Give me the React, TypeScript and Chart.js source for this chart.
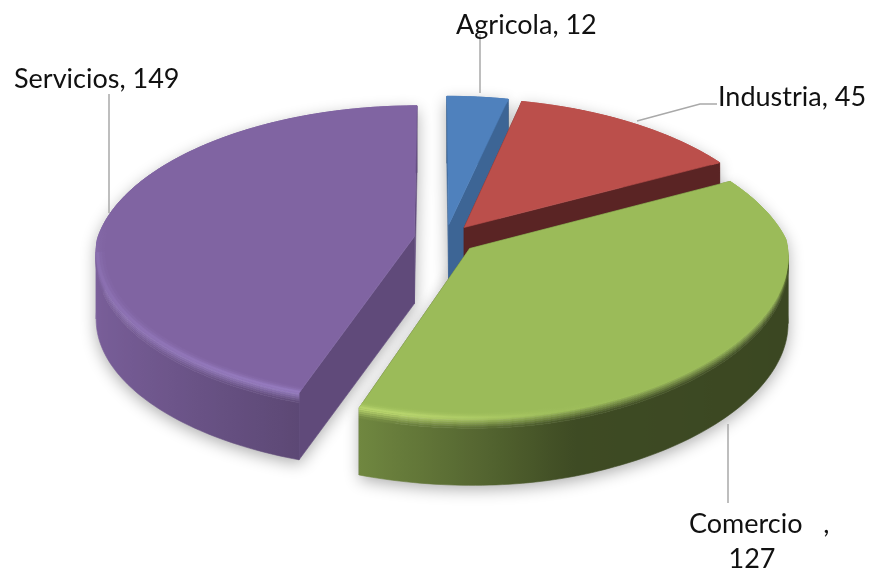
import React, { useEffect, useRef } from "react";
import { Chart, registerables } from "chart.js";

Chart.register(...registerables);

const categories = ["Agricola", "Industria", "Comercio", "Servicios"];
const values = [12, 45, 127, 149];
const topColors = ["#4f81bd", "#bb4f4b", "#9bbb59", "#8064a2"];
const cutColors = ["#3d6595", "#5a2424", "#4a5a2a", "#604a7a"];
const rimColors = ["#7aa5e0", "#e07a76", "#c0dc72", "#9c82c8"];

// Projection of the pie's plane on to the page
const VX = 434, CY = 239, SX = 317, SY = 147, X0 = -0.036, PX_BACK = 0.15, PY = 0.12, DEPTH = 67, BEVEL = 10, RING = 0.035;

type RGB = [number, number, number];
const hex = (h: string): RGB => [1, 3, 5].map((i) => parseInt(h.slice(i, i + 2), 16)) as RGB;
const css = (c: RGB) => `rgb(${c.map((v) => Math.round(v)).join(",")})`;
const mix = (a: RGB, b: RGB, t: number): RGB => a.map((v, i) => v + (b[i] - v) * t) as RGB;
const scale = (a: RGB, k: number): RGB => a.map((v) => v * k) as RGB;
const lerpTable = (s: number, t: number[][]) => {
  if (s <= t[0][0]) return t[0][1];
  for (let i = 1; i < t.length; i++) {
    if (s <= t[i][0]) return t[i - 1][1] + ((s - t[i - 1][0]) / (t[i][0] - t[i - 1][0])) * (t[i][1] - t[i - 1][1]);
  }
  return t[t.length - 1][1];
};
const wallK = (s: number) => lerpTable(s, [[-1, 0.95], [-0.32, 0.72], [0.3, 0.4], [1, 0.38]]);
const rimLight = (theta: number) => {
  const s = Math.cos(theta); // +1 right, -1 left
  const front = Math.sin(theta);
  return lerpTable(s, [[-1, 0.45], [-0.5, 0.9], [-0.2, 1], [0.25, 0.1], [0.45, 0]]) * lerpTable(front, [[-0.1, 0], [0.15, 1]]);
};

const project = (X: number, Y: number, z = 0): [number, number] => {
  const pf = lerpTable(X, [[-0.1, 0.1], [0.5, 0.05]]);
  return [
    VX + (SX * (X - X0)) / (1 - (Y > 0 ? pf : PX_BACK) * Y),
    CY + (SY * Y) / (1 - PY * Y) + z,
  ];
};

const pie3d = {
  id: "pie3d",
  beforeDatasetDraw: () => false,
  afterDatasetsDraw(chart: any) {
    const ctx: CanvasRenderingContext2D = chart.ctx;
    const arcs: any[] = chart.getDatasetMeta(0).data;
    const slices = arcs.map((arc, i) => {
      const R = arc.outerRadius;
      const mid = (arc.startAngle + arc.endAngle) / 2;
      const e = (arc.options.offset || 0) / R;
      const ox = e * Math.cos(mid), oy = e * Math.sin(mid);
      const at = (theta: number, r: number, z = 0) => project(ox + r * Math.cos(theta), oy + r * Math.sin(theta), z);
      return { i, a0: arc.startAngle, a1: arc.endAngle, at, oy };
    });
    const order = [...slices].sort((a, b) => a.oy - b.oy);

    const poly = (pts: [number, number][], fill: any, seam = true) => {
      ctx.beginPath();
      pts.forEach((p, k) => (k ? ctx.lineTo(p[0], p[1]) : ctx.moveTo(p[0], p[1])));
      ctx.closePath();
      ctx.fillStyle = fill;
      ctx.fill();
      if (seam) {
        ctx.strokeStyle = fill;
        ctx.lineWidth = 0.6;
        ctx.stroke();
      }
    };
    const outline = (s: any, r: number, z: number) => {
      const pts: [number, number][] = [s.at(s.a0, 0, z)];
      const n = Math.ceil((s.a1 - s.a0) / 0.02);
      for (let k = 0; k <= n; k++) pts.push(s.at(s.a0 + ((s.a1 - s.a0) * k) / n, r, z));
      return pts;
    };
    // split an arc where it turns round in x, so that x is monotonic on each part
    const parts = (s: any, r: number) => {
      const cuts = [s.a0];
      const n = Math.ceil((s.a1 - s.a0) / 0.01);
      let prev = 0;
      for (let k = 0; k < n; k++) {
        const t0 = s.a0 + ((s.a1 - s.a0) * k) / n, t1 = s.a0 + ((s.a1 - s.a0) * (k + 1)) / n;
        const dir = Math.sign(s.at(t1, r)[0] - s.at(t0, r)[0]);
        if (prev && dir && dir !== prev) cuts.push(t0);
        if (dir) prev = dir;
      }
      cuts.push(s.a1);
      return cuts.slice(1).map((c: number, i: number) => [cuts[i], c]);
    };
    // one smooth strip along an arc, shaded left to right
    const strip = (s: any, r0: number, z0: number, r1: number, z1: number, color: (t: number) => RGB, side: "all" | "back" | "front" = "all") => {
      parts(s, r1).forEach(([p0, p1]: number[]) => {
        const isFront = Math.sin((p0 + p1) / 2) > 0;
        if ((side === "back" && isFront) || (side === "front" && !isFront)) return;
        const n = Math.max(2, Math.ceil((p1 - p0) / 0.02));
        const top: [number, number][] = [];
        const bottom: [number, number][] = [];
        for (let k = 0; k <= n; k++) {
          const t = p0 + ((p1 - p0) * k) / n;
          top.push(s.at(t, r0, z0));
          bottom.unshift(s.at(t, r1, z1));
        }
        const xa = s.at(p0, r1, 0)[0], xb = s.at(p1, r1, 0)[0];
        const g = ctx.createLinearGradient(xa, 0, xb === xa ? xa + 1 : xb, 0);
        const stops = 40;
        for (let k = 0; k <= stops; k++) {
          const t = p0 + ((p1 - p0) * k) / stops;
          const x = s.at(t, r1, 0)[0];
          g.addColorStop(Math.min(1, Math.max(0, (x - xa) / (xb - xa || 1))), css(color(t)));
        }
        poly([...top, ...bottom], g);
      });
    };

    // soft shadow under every slice: one swept silhouette per slice
    ctx.save();
    ctx.shadowColor = "rgba(0,0,0,0.33)";
    ctx.shadowBlur = 16;
    ctx.shadowOffsetY = 5;
    ctx.fillStyle = "#ffffff";
    slices.forEach((s) => {
      ctx.beginPath();
      for (let z = 0; z <= DEPTH; z += 3) {
        outline(s, 1, z).forEach((p, k) => (k ? ctx.lineTo(p[0], p[1]) : ctx.moveTo(p[0], p[1])));
        ctx.closePath();
      }
      ctx.fill("nonzero");
    });
    ctx.restore();

    order.forEach((s) => {
      const base = hex(topColors[s.i]);
      const rim = hex(rimColors[s.i]);
      const wall = (t: number) => scale(base, wallK(Math.cos(t)));
      const hi = (t: number) => mix(base, rim, rimLight(t));
      const bands = 5;
      const side = (which: "back" | "front") => {
        strip(s, 1, BEVEL, 1, DEPTH, wall, which);
        for (let b = 0; b < bands; b++) {
          strip(s, 1, (BEVEL * b) / bands, 1, (BEVEL * (b + 1)) / bands, (t) => mix(hi(t), wall(t), (b + 0.5) / bands), which);
        }
      };
      side("back");
      // flat cut faces
      [s.a0, s.a1].forEach((a) => {
        poly([s.at(a, 0, 0), s.at(a, 1, 0), s.at(a, 1, DEPTH), s.at(a, 0, DEPTH)], cutColors[s.i]);
      });
      side("front");
      // top face
      poly(outline(s, 1, 0), css(base));
      // soft inner ring rising to the bevel
      const rings = 4;
      for (let b = 0; b < rings; b++) {
        const r0 = 1 - RING + (RING * b) / rings, r1 = 1 - RING + (RING * (b + 1)) / rings;
        strip(s, r0, 0, r1, 0, (t) => mix(base, hi(t), Math.pow((b + 0.5) / rings, 2)));
      }
    });

    // data labels and leader lines
    ctx.save();
    ctx.strokeStyle = "#a9a9a9";
    ctx.lineWidth = 1.5;
    const leaders: [number, number][][] = [
      [[480, 34], [480, 93]],
      [[717, 104], [700, 104], [637, 121]],
      [[728, 424], [728, 503]],
      [[109, 94], [109, 213]],
    ];
    leaders.forEach((l) => {
      ctx.beginPath();
      l.forEach((p, k) => (k ? ctx.lineTo(p[0], p[1]) : ctx.moveTo(p[0], p[1])));
      ctx.stroke();
    });
    ctx.fillStyle = "#111111";
    ctx.font = "27px Lato";
    ctx.textBaseline = "alphabetic";
    ctx.textAlign = "left";
    ctx.fillText(`${categories[0]}, ${values[0]}`, 456, 34);
    ctx.fillText(`${categories[1]}, ${values[1]}`, 718, 106);
    ctx.fillText(`${categories[3]}, ${values[3]}`, 14, 88);
    ctx.fillText(`${categories[2]}   ,`, 689, 533);
    ctx.textAlign = "center";
    ctx.fillText(`${values[2]}`, 752, 568);
    ctx.restore();
  },
};

export default function App() {
  const ref = useRef<HTMLCanvasElement>(null);
  useEffect(() => {
    const chart = new Chart(ref.current!, {
      type: "pie",
      data: {
        labels: categories,
        datasets: [{ data: values, backgroundColor: topColors, offset: 27, borderWidth: 0 }],
      },
      options: {
        responsive: false,
        animation: false,
        plugins: { legend: { display: false }, tooltip: { enabled: false } },
      },
      plugins: [pie3d],
    } as any);
    return () => chart.destroy();
  }, []);
  return (
    <div style={{ position: "fixed", left: 0, top: 0, width: 871, height: 571, background: "#fff" }}>
      <canvas ref={ref} width={871} height={571} style={{ display: "block" }} />
    </div>
  );
}
